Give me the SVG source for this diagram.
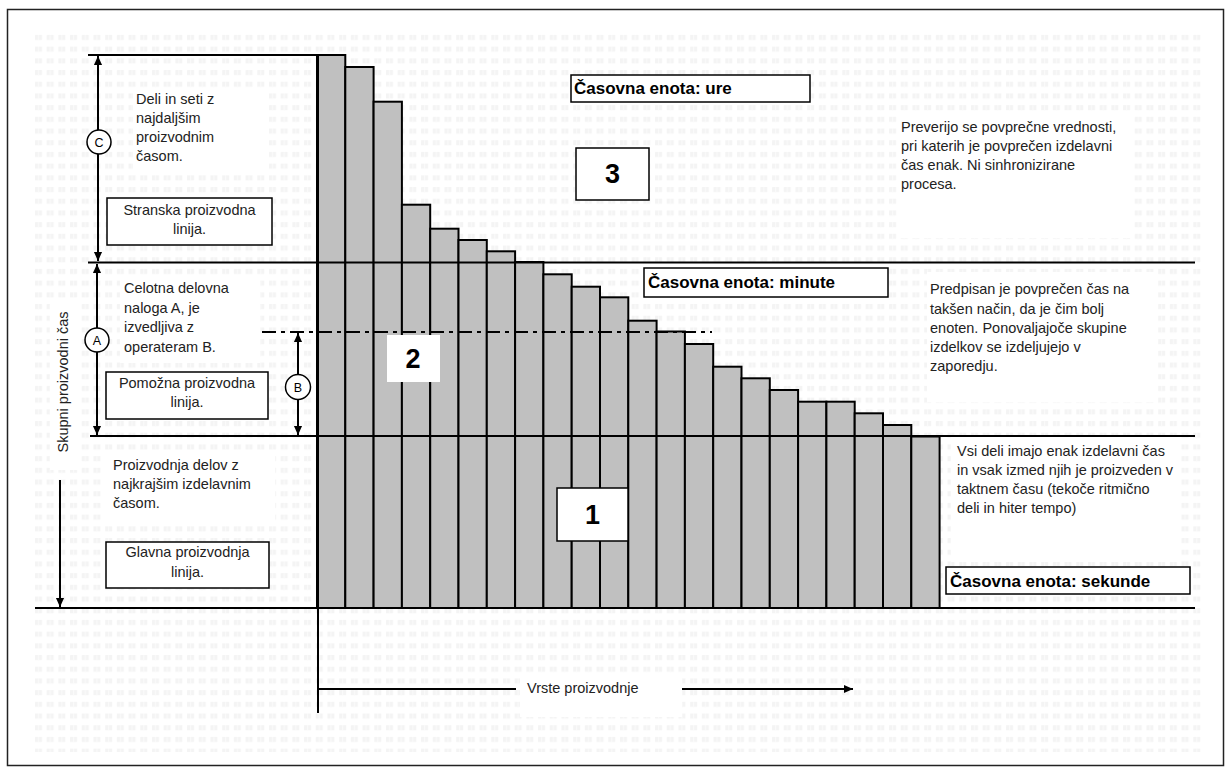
<svg xmlns="http://www.w3.org/2000/svg" width="1232" height="776" viewBox="0 0 1232 776">
<style>
.t{font-family:"Liberation Sans",Arial,sans-serif;font-size:14.5px;fill:#222}
.tc{font-family:"Liberation Sans",Arial,sans-serif;font-size:14.5px;fill:#222;text-anchor:middle}
.tb{font-family:"Liberation Sans",Arial,sans-serif;font-size:17px;font-weight:bold;fill:#000}
.num{font-family:"Liberation Sans",Arial,sans-serif;font-size:27px;font-weight:bold;fill:#000;text-anchor:middle}
.cl{font-family:"Liberation Sans",Arial,sans-serif;font-size:12.5px;fill:#000;text-anchor:middle}
.bar{fill:#c0c0c0;stroke:#000;stroke-width:2}
.ln{stroke:#000;stroke-width:2;fill:none}
.box{fill:#fff;stroke:#000;stroke-width:1.5}
.wb{fill:#fff}
.circ{fill:#fff;stroke:#000;stroke-width:1.5}
</style>
<defs>
<pattern id="grid" x="33" y="32" width="11.7" height="11.7" patternUnits="userSpaceOnUse">
<rect x="2" y="3" width="7" height="5" fill="#f4f4f4"/>
<rect x="5" y="3" width="1" height="5" fill="#fbfbfb"/>
</pattern>
<marker id="ah" viewBox="0 0 10 10" refX="10" refY="5" markerWidth="9" markerHeight="10" markerUnits="userSpaceOnUse" orient="auto-start-reverse">
<path d="M0,0.5 L10,5 L0,9.5 z" fill="#000"/>
</marker>
</defs>
<rect width="1232" height="776" fill="#fff"/>
<rect x="7.5" y="9.5" width="1216" height="756" fill="none" stroke="#222" stroke-width="1.5"/>
<rect x="33" y="32" width="1168" height="720" fill="url(#grid)"/>

<g id="text-backgrounds">
<rect class="wb" x="133" y="88" width="134" height="84"/>
<rect class="wb" x="120" y="278" width="140" height="85"/>
<rect class="wb" x="50" y="300" width="30" height="170"/>
<rect class="wb" x="105" y="450" width="170" height="75"/>
<rect class="wb" x="897" y="115" width="235" height="123"/>
<rect class="wb" x="927" y="272" width="231" height="130"/>
<rect class="wb" x="951" y="437" width="229" height="125"/>
<rect class="wb" x="520" y="674" width="162" height="43"/>
</g>

<g id="bars">
<rect class="bar" x="317" y="55" width="28.3" height="553"/>
<rect class="bar" x="345.3" y="67" width="28.3" height="541"/>
<rect class="bar" x="373.6" y="101.7" width="28.3" height="506.3"/>
<rect class="bar" x="401.9" y="204.7" width="28.3" height="403.3"/>
<rect class="bar" x="430.2" y="228.7" width="28.3" height="379.3"/>
<rect class="bar" x="458.5" y="240" width="28.3" height="368"/>
<rect class="bar" x="486.8" y="251.3" width="28.3" height="356.7"/>
<rect class="bar" x="515.1" y="262" width="28.3" height="346"/>
<rect class="bar" x="543.4" y="274.3" width="28.3" height="333.7"/>
<rect class="bar" x="571.7" y="286.7" width="28.3" height="321.3"/>
<rect class="bar" x="600" y="297.3" width="28.3" height="310.7"/>
<rect class="bar" x="628.3" y="320.7" width="28.3" height="287.3"/>
<rect class="bar" x="656.6" y="331.5" width="28.3" height="276.5"/>
<rect class="bar" x="684.9" y="344" width="28.3" height="264"/>
<rect class="bar" x="713.2" y="366.7" width="28.3" height="241.3"/>
<rect class="bar" x="741.5" y="378.3" width="28.3" height="229.7"/>
<rect class="bar" x="769.8" y="390" width="28.3" height="218"/>
<rect class="bar" x="798.1" y="401.7" width="28.3" height="206.3"/>
<rect class="bar" x="826.4" y="401.7" width="28.3" height="206.3"/>
<rect class="bar" x="854.7" y="413.3" width="28.3" height="194.7"/>
<rect class="bar" x="883" y="425" width="28.3" height="183"/>
<rect class="bar" x="911.3" y="436.5" width="28.3" height="171.5"/>
</g>

<g id="connectors">
<line class="ln" x1="88" y1="55" x2="317" y2="55" stroke-width="1.5"/>
<line class="ln" x1="88" y1="262.5" x2="1195" y2="262.5"/>
<line class="ln" x1="90" y1="436" x2="1195" y2="436"/>
<line class="ln" x1="35" y1="608" x2="1195" y2="608"/>
<line class="ln" x1="262" y1="332" x2="712" y2="332" stroke-dasharray="14 5 4 5"/>
<line class="ln" x1="318" y1="55" x2="318" y2="713"/>
<line class="ln" x1="98" y1="56" x2="98" y2="261" marker-start="url(#ah)" marker-end="url(#ah)"/>
<line class="ln" x1="97" y1="264" x2="97" y2="435" marker-start="url(#ah)" marker-end="url(#ah)"/>
<line class="ln" x1="298" y1="333" x2="298" y2="435" marker-start="url(#ah)" marker-end="url(#ah)"/>
<line class="ln" x1="60" y1="480" x2="60" y2="607" marker-end="url(#ah)"/>
<line class="ln" x1="318" y1="689" x2="516" y2="689"/>
<line class="ln" x1="682" y1="689" x2="853" y2="689" marker-end="url(#ah)"/>
</g>

<g id="marker-C">
<circle class="circ" cx="99" cy="142" r="12"/>
<text class="cl" x="99" y="146.5">C</text>
</g>
<g id="marker-A">
<circle class="circ" cx="97" cy="340" r="12"/>
<text class="cl" x="97" y="344.5">A</text>
</g>
<g id="marker-B">
<circle class="circ" cx="298" cy="387" r="12.5"/>
<text class="cl" x="298" y="391.5">B</text>
</g>

<g id="text-C">
<text class="t" x="136" y="104">Deli in seti z</text>
<text class="t" x="136" y="123">najdaljšim</text>
<text class="t" x="136" y="142">proizvodnim</text>
<text class="t" x="136" y="161">časom.</text>
</g>
<g id="box-stranska">
<rect class="box" x="107" y="198" width="165" height="47"/>
<text class="tc" x="189.5" y="215">Stranska proizvodna</text>
<text class="tc" x="189.5" y="234">linija.</text>
</g>
<g id="text-A">
<text class="t" x="124" y="293">Celotna delovna</text>
<text class="t" x="124" y="312.5">naloga A, je</text>
<text class="t" x="124" y="332">izvedljiva z</text>
<text class="t" x="124" y="351.5">operateram B.</text>
</g>
<g id="box-pomozna">
<rect class="box" x="106" y="372" width="162" height="47"/>
<text class="tc" x="187" y="387.5">Pomožna proizvodna</text>
<text class="tc" x="187" y="406.5">linija.</text>
</g>
<g id="label-skupni">
<text class="tc" transform="translate(68,382) rotate(-90)">Skupni proizvodni čas</text>
</g>
<g id="text-1">
<text class="t" x="113" y="470">Proizvodnja delov z</text>
<text class="t" x="113" y="489">najkrajšim izdelavnim</text>
<text class="t" x="113" y="508">časom.</text>
</g>
<g id="box-glavna">
<rect class="box" x="106" y="542" width="163" height="46"/>
<text class="tc" x="187.5" y="556.5">Glavna proizvodnja</text>
<text class="tc" x="187.5" y="576.5">linija.</text>
</g>

<g id="box-ure">
<rect class="box" x="571" y="75" width="239" height="27"/>
<text class="tb" x="574" y="94">Časovna enota: ure</text>
</g>
<g id="box-3">
<rect class="box" x="576" y="148" width="73" height="52"/>
<text class="num" x="612.5" y="183">3</text>
</g>
<g id="text-3">
<text class="t" x="901" y="131.5">Preverijo se povprečne vrednosti,</text>
<text class="t" x="901" y="150.5">pri katerih je povprečen izdelavni</text>
<text class="t" x="901" y="169.5">čas enak. Ni sinhronizirane</text>
<text class="t" x="901" y="188.5">procesa.</text>
</g>
<g id="box-minute">
<rect class="box" x="644" y="268" width="244" height="29"/>
<text class="tb" x="648" y="288">Časovna enota: minute</text>
</g>
<g id="box-2">
<rect class="wb" x="387" y="335" width="53" height="47"/>
<text class="num" x="413" y="368">2</text>
</g>
<g id="text-2">
<text class="t" x="930" y="294">Predpisan je povprečen čas na</text>
<text class="t" x="930" y="313.5">takšen način, da je čim bolj</text>
<text class="t" x="930" y="333">enoten. Ponovaljajoče skupine</text>
<text class="t" x="930" y="352">izdelkov se izdeljujejo v</text>
<text class="t" x="930" y="371">zaporedju.</text>
</g>
<g id="box-1">
<rect class="box" x="557" y="488" width="71" height="53"/>
<text class="num" x="592.5" y="524">1</text>
</g>
<g id="text-1r">
<text class="t" x="957" y="455.5">Vsi deli imajo enak izdelavni čas</text>
<text class="t" x="957" y="475">in vsak izmed njih je proizveden v</text>
<text class="t" x="957" y="494">taktnem času (tekoče ritmično</text>
<text class="t" x="957" y="513">deli in hiter tempo)</text>
</g>
<g id="box-sekunde">
<rect class="box" x="946" y="567" width="244" height="27"/>
<text class="tb" x="950" y="587">Časovna enota: sekunde</text>
</g>
<g id="label-vrste">
<text class="t" x="527" y="693">Vrste proizvodnje</text>
</g>
</svg>
